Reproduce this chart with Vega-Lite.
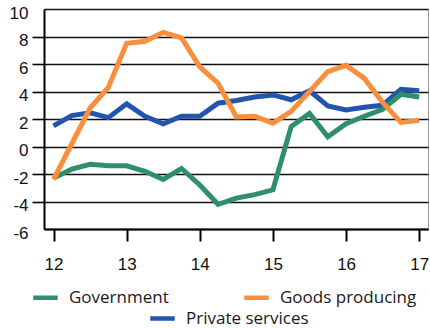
{
  "$schema": "https://vega.github.io/schema/vega-lite/v6.json",
  "width": 384,
  "height": 220,
  "autosize": {"type": "none"},
  "padding": {"left": 44, "top": 9, "right": 2, "bottom": 99},
  "background": "white",
  "config": {
    "view": {"stroke": "#9a9a9a", "strokeWidth": 1},
    "font": "Liberation Sans",
    "axis": {"labelFont": "Liberation Sans", "labelColor": "#111", "labelFontSize": 17, "domainColor": "#000", "tickColor": "#000", "titleFontSize": 0},
    "legend": {"symbolType": "stroke", "symbolStrokeWidth": 4.5, "symbolSize": 600, "labelFont": "Open Sans", "labelFontSize": 17, "labelColor": "#1a1a1a", "labelOffset": 9, "title": null}
  },
  "data": {"values": [
    {"t": 12, "s": "Government", "v": -2.3},
    {"t": 12.25, "s": "Government", "v": -1.65},
    {"t": 12.5, "s": "Government", "v": -1.3},
    {"t": 12.75, "s": "Government", "v": -1.4},
    {"t": 13, "s": "Government", "v": -1.4},
    {"t": 13.25, "s": "Government", "v": -1.8},
    {"t": 13.5, "s": "Government", "v": -2.4},
    {"t": 13.75, "s": "Government", "v": -1.6},
    {"t": 14, "s": "Government", "v": -2.8},
    {"t": 14.25, "s": "Government", "v": -4.2},
    {"t": 14.5, "s": "Government", "v": -3.75},
    {"t": 14.75, "s": "Government", "v": -3.5},
    {"t": 15, "s": "Government", "v": -3.15},
    {"t": 15.25, "s": "Government", "v": 1.45},
    {"t": 15.5, "s": "Government", "v": 2.4},
    {"t": 15.75, "s": "Government", "v": 0.7},
    {"t": 16, "s": "Government", "v": 1.65},
    {"t": 16.25, "s": "Government", "v": 2.2},
    {"t": 16.5, "s": "Government", "v": 2.7},
    {"t": 16.75, "s": "Government", "v": 3.8},
    {"t": 17, "s": "Government", "v": 3.6},
    {"t": 12, "s": "Goods producing", "v": -2.4},
    {"t": 12.25, "s": "Goods producing", "v": 0.2},
    {"t": 12.5, "s": "Goods producing", "v": 2.8},
    {"t": 12.75, "s": "Goods producing", "v": 4.3},
    {"t": 13, "s": "Goods producing", "v": 7.5},
    {"t": 13.25, "s": "Goods producing", "v": 7.65},
    {"t": 13.5, "s": "Goods producing", "v": 8.3},
    {"t": 13.75, "s": "Goods producing", "v": 7.9},
    {"t": 14, "s": "Goods producing", "v": 5.8},
    {"t": 14.25, "s": "Goods producing", "v": 4.6},
    {"t": 14.5, "s": "Goods producing", "v": 2.15},
    {"t": 14.75, "s": "Goods producing", "v": 2.2},
    {"t": 15, "s": "Goods producing", "v": 1.7},
    {"t": 15.25, "s": "Goods producing", "v": 2.55},
    {"t": 15.5, "s": "Goods producing", "v": 4.0},
    {"t": 15.75, "s": "Goods producing", "v": 5.45},
    {"t": 16, "s": "Goods producing", "v": 5.9},
    {"t": 16.25, "s": "Goods producing", "v": 4.95},
    {"t": 16.5, "s": "Goods producing", "v": 3.2},
    {"t": 16.75, "s": "Goods producing", "v": 1.75},
    {"t": 17, "s": "Goods producing", "v": 1.9},
    {"t": 12, "s": "Private services", "v": 1.5},
    {"t": 12.25, "s": "Private services", "v": 2.25},
    {"t": 12.5, "s": "Private services", "v": 2.45},
    {"t": 12.75, "s": "Private services", "v": 2.1},
    {"t": 13, "s": "Private services", "v": 3.1},
    {"t": 13.25, "s": "Private services", "v": 2.2},
    {"t": 13.5, "s": "Private services", "v": 1.65},
    {"t": 13.75, "s": "Private services", "v": 2.2},
    {"t": 14, "s": "Private services", "v": 2.2},
    {"t": 14.25, "s": "Private services", "v": 3.15},
    {"t": 14.5, "s": "Private services", "v": 3.35},
    {"t": 14.75, "s": "Private services", "v": 3.6},
    {"t": 15, "s": "Private services", "v": 3.75},
    {"t": 15.25, "s": "Private services", "v": 3.4},
    {"t": 15.5, "s": "Private services", "v": 4.05},
    {"t": 15.75, "s": "Private services", "v": 2.95},
    {"t": 16, "s": "Private services", "v": 2.65},
    {"t": 16.25, "s": "Private services", "v": 2.85},
    {"t": 16.5, "s": "Private services", "v": 3.0},
    {"t": 16.75, "s": "Private services", "v": 4.15},
    {"t": 17, "s": "Private services", "v": 4.05}
  ]},
  "encoding": {
    "x": {"field": "t", "type": "quantitative", "title": null,
      "scale": {"domain": [11.87, 17.12], "nice": false, "zero": false},
      "axis": {"values": [12, 13, 14, 15, 16, 17], "format": "d", "grid": false, "tickSize": 12, "tickWidth": 2, "domainWidth": 2, "labelPadding": 15, "labelFlush": false}},
    "y": {"field": "v", "type": "quantitative", "title": null,
      "scale": {"domain": [-6, 10], "nice": false},
      "axis": {"values": [-6, -4, -2, 0, 2, 4, 6, 8, 10], "labelExpr": "'' + datum.value", "labelFontSize": 17, "labelOffset": 4, "grid": true, "gridColor": "#111", "gridWidth": 1.6, "gridOpacity": 1, "tickSize": 12, "tickWidth": 1.6,
        "tickOpacity": {"condition": {"test": "datum.value == 10 || datum.value == -6", "value": 0}, "value": 1},
        "domainWidth": 2, "labelPadding": 4}}
  },
  "layer": [
    {
      "data": {"values": [{"t": 12}, {"t": 13}, {"t": 14}, {"t": 15}, {"t": 16}, {"t": 17}]},
      "mark": {"type": "rule", "color": "#000", "strokeWidth": 2},
      "encoding": {"x": {"field": "t", "type": "quantitative"}, "y": {"datum": -6}, "y2": {"datum": -5.2}}
    },
    {
      "transform": [{"filter": "datum.s === 'Private services'"}],
      "mark": {"type": "line", "strokeWidth": 5},
      "encoding": {
        "stroke": {"field": "s", "type": "nominal",
          "scale": {"domain": ["Private services"], "range": ["#2355ad"]},
          "legend": {"orient": "none", "legendX": 104, "legendY": 295}}
      }
    },
    {
      "transform": [{"filter": "datum.s !== 'Private services'"}],
      "mark": {"type": "line", "strokeWidth": 5},
      "encoding": {
        "color": {"field": "s", "type": "nominal",
          "scale": {"domain": ["Government", "Goods producing"], "range": ["#2e8f68", "#f78f3c"]},
          "legend": {"orient": "none", "direction": "horizontal", "legendX": -13, "legendY": 274, "columnPadding": 66}}
      }
    }
  ]
}
